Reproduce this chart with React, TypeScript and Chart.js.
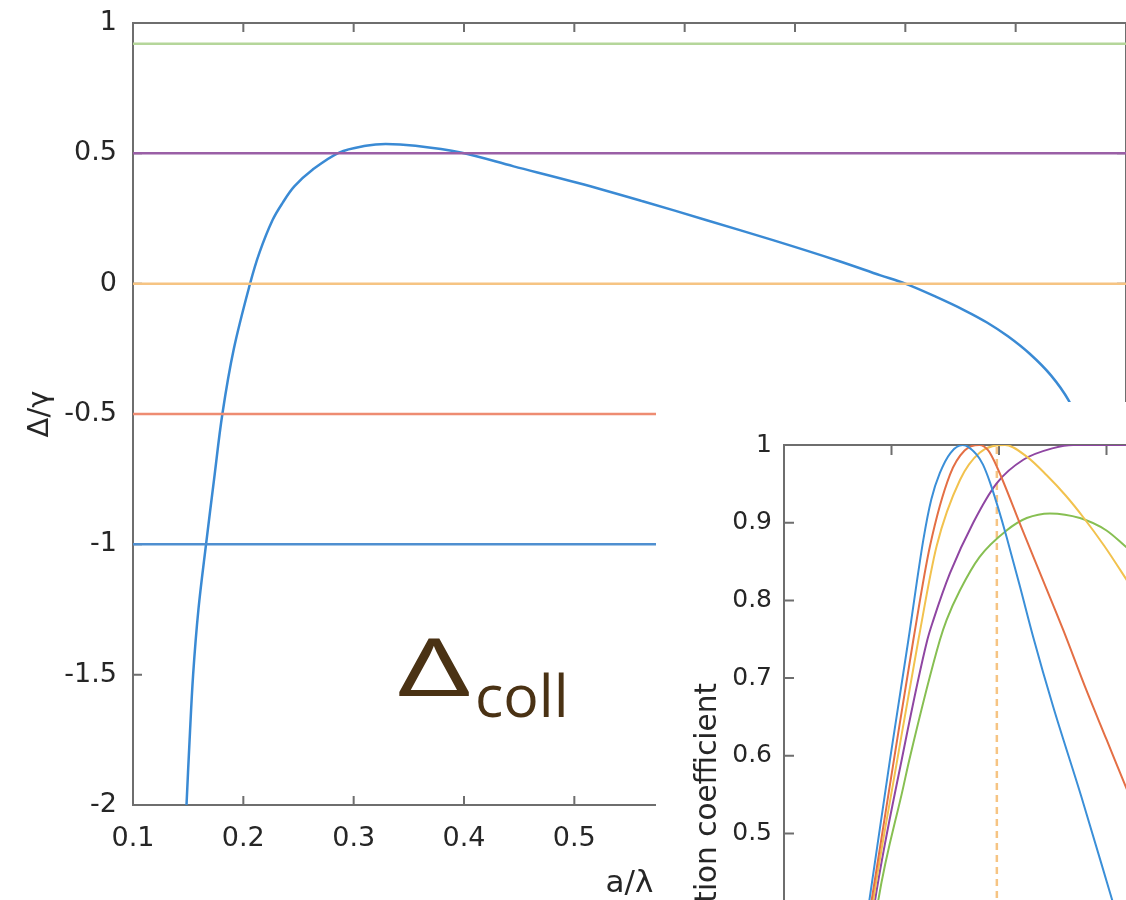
import React, { useEffect, useRef } from 'react';
import { Chart, registerables } from 'chart.js';

Chart.register(...registerables);

// ---------- Main chart: collective shift vs lattice spacing ----------
const mainXTicks = [0.1, 0.2, 0.3, 0.4, 0.5, 0.6, 0.7, 0.8, 0.9, 1.0];
const mainYTicks = [-2, -1.5, -1, -0.5, 0, 0.5, 1];

const collX = [0.148, 0.1485, 0.1513, 0.1545, 0.1593, 0.1662, 0.1735, 0.181, 0.1914, 0.2061, 0.2147, 0.2266, 0.2356, 0.2462, 0.2627, 0.2869, 0.311, 0.329, 0.356, 0.397, 0.445, 0.5035, 0.562, 0.62, 0.68, 0.7375, 0.7775, 0.8, 0.827, 0.854, 0.874, 0.893, 0.913, 0.932, 0.948, 0.96, 0.97];
const collY = [-2.05, -2.0, -1.75, -1.5, -1.25, -1.0, -0.75, -0.5, -0.25, 0, 0.12, 0.245, 0.31, 0.373, 0.437, 0.503, 0.529, 0.536, 0.529, 0.503, 0.45, 0.386, 0.316, 0.2435, 0.167, 0.09, 0.032, 0, -0.049, -0.103, -0.149, -0.202, -0.27, -0.352, -0.448, -0.56, -0.68];

const levelValues = [0.92, 0.5, 0, -0.5, -1];
const levelColors = ['#b5d69a', '#9a5fa6', '#f6c483', '#ee8c72', '#4f8fd0'];

// ---------- Inset: reflection coefficient vs lattice spacing ----------
const insetXTicks = [0, 0.1, 0.2, 0.3, 0.4, 0.5];
const insetYTicks = [0, 0.1, 0.2, 0.3, 0.4, 0.5, 0.6, 0.7, 0.8, 0.9, 1];

const blueX = [0.072, 0.0794, 0.0986, 0.1157, 0.1296, 0.137, 0.145, 0.155, 0.1662, 0.179, 0.185, 0.1916, 0.199, 0.207, 0.2195, 0.232, 0.25, 0.2767, 0.303, 0.318];
const blueY = [0.345, 0.414, 0.595, 0.749, 0.878, 0.93, 0.964, 0.99, 1.0, 0.988, 0.975, 0.952, 0.92, 0.882, 0.818, 0.752, 0.665, 0.547, 0.425, 0.355];

const redX = [0.074, 0.0815, 0.1023, 0.1203, 0.1358, 0.1544, 0.168, 0.1817, 0.19, 0.198, 0.22, 0.24, 0.26, 0.28, 0.3, 0.318, 0.33];
const redY = [0.345, 0.414, 0.595, 0.749, 0.87, 0.962, 0.993, 1.0, 0.993, 0.972, 0.897, 0.829, 0.761, 0.689, 0.621, 0.56, 0.519];

const yellowX = [0.076, 0.083, 0.1054, 0.125, 0.142, 0.1637, 0.182, 0.2056, 0.2258, 0.2444, 0.262, 0.2784, 0.298, 0.318, 0.33];
const yellowY = [0.345, 0.414, 0.595, 0.749, 0.87, 0.955, 0.99, 1.0, 0.985, 0.961, 0.935, 0.907, 0.87, 0.828, 0.802];

const purpleX = [0.078, 0.0847, 0.1095, 0.1333, 0.139, 0.1544, 0.176, 0.198, 0.2226, 0.2505, 0.269, 0.3, 0.33];
const purpleY = [0.345, 0.414, 0.595, 0.749, 0.775, 0.835, 0.9, 0.951, 0.981, 0.996, 1.0, 1.0, 1.0];

const greenX = [0.081, 0.0877, 0.111, 0.1166, 0.145, 0.1513, 0.1637, 0.182, 0.207, 0.2258, 0.2474, 0.2753, 0.3, 0.318, 0.33];
const greenY = [0.345, 0.414, 0.56, 0.595, 0.749, 0.775, 0.813, 0.856, 0.89, 0.906, 0.912, 0.906, 0.89, 0.869, 0.855];

const insetColors = ['#3b8fd8', '#e46f45', '#f2c24e', '#8f46a2', '#87bf52'];
const markerX = 0.198;
const markerY = [0, 1];

const TEXT = '#262626';
const AXIS = '#6e6e6e';
const FONT = 'DejaVu Sans';

const fmt = (v: number) => String(Number(Number(v).toFixed(2)));
const pts = (xs: number[], ys: number[]) => xs.map((x, i) => ({ x, y: ys[i] }));

const noPad = (s: any) => {
  s.paddingTop = 0;
  s.paddingBottom = 0;
  s.paddingLeft = 0;
  s.paddingRight = 0;
};

function boxPlugin(id: string, tickLen: number) {
  return {
    id,
    beforeDatasetsDraw(chart: any) {
      const { ctx, chartArea } = chart;
      const { left, right, top, bottom } = chartArea;
      const xs = chart.scales.x;
      const ys = chart.scales.y;
      ctx.save();
      ctx.strokeStyle = AXIS;
      ctx.lineWidth = 2;
      ctx.strokeRect(left, top, right - left, bottom - top);
      ctx.beginPath();
      xs.ticks.forEach((t: any) => {
        const p = xs.getPixelForValue(t.value);
        ctx.moveTo(p, bottom);
        ctx.lineTo(p, bottom - tickLen);
        ctx.moveTo(p, top);
        ctx.lineTo(p, top + tickLen);
      });
      ys.ticks.forEach((t: any) => {
        const p = ys.getPixelForValue(t.value);
        ctx.moveTo(left, p);
        ctx.lineTo(left + tickLen, p);
        ctx.moveTo(right, p);
        ctx.lineTo(right - tickLen, p);
      });
      ctx.stroke();
      ctx.restore();
    },
  };
}

const collLabelPlugin = {
  id: 'collLabel',
  afterDraw(chart: any) {
    const { ctx } = chart;
    ctx.save();
    ctx.fillStyle = '#4a3214';
    ctx.textBaseline = 'alphabetic';
    ctx.textAlign = 'left';
    ctx.translate(397, 696);
    ctx.scale(1.6, 1);
    ctx.font = '80px "Open Sans"';
    ctx.fillText('Δ', 0, 0);
    ctx.restore();
    ctx.save();
    ctx.fillStyle = '#4a3214';
    ctx.textBaseline = 'alphabetic';
    ctx.textAlign = 'left';
    ctx.font = '59px "Open Sans"';
    ctx.fillText('coll', 475, 717);
    ctx.restore();
  },
};

// Inset y-axis title, placed beside the inset's y axis.
const insetTitlePlugin = {
  id: 'insetTitle',
  afterDraw(chart: any) {
    const { ctx } = chart;
    ctx.save();
    ctx.fillStyle = TEXT;
    ctx.font = `29.5px "${FONT}"`;
    ctx.textAlign = 'center';
    ctx.textBaseline = 'middle';
    ctx.translate(52, 436);
    ctx.rotate(-Math.PI / 2);
    ctx.fillText('Reflection coefficient', 0, 0);
    ctx.restore();
  },
};

export default function App() {
  const mainRef = useRef<HTMLCanvasElement>(null);
  const insetRef = useRef<HTMLCanvasElement>(null);

  useEffect(() => {
    const levelSets = levelValues.map((v, i) => ({
      data: [{ x: mainXTicks[0], y: v }, { x: mainXTicks[mainXTicks.length - 1], y: v }],
      borderColor: levelColors[i],
      borderWidth: 2.5,
      pointRadius: 0,
    }));

    const main = new Chart(mainRef.current!, {
      type: 'line',
      data: {
        datasets: [
          ...levelSets,
          {
            data: pts(collX, collY),
            borderColor: '#3a8ad4',
            borderWidth: 2.5,
            pointRadius: 0,
            tension: 0.35,
          },
        ],
      },
      options: {
        animation: false,
        responsive: false,
        devicePixelRatio: 1,
        events: [],
        layout: { padding: { left: 0, top: 23, right: 14, bottom: 0 } },
        plugins: { legend: { display: false }, tooltip: { enabled: false } },
        scales: {
          x: {
            type: 'linear',
            min: 0.1,
            max: 1.0,
            afterBuildTicks: (s: any) => { s.ticks = mainXTicks.map((value) => ({ value })); },
            afterFit: (s: any) => { s.height = 95; noPad(s); },
            grid: { display: false, drawTicks: false },
            border: { display: false },
            ticks: { font: { family: FONT, size: 27 }, color: TEXT, padding: 18, autoSkip: false, maxRotation: 0, callback: (v: any) => fmt(v) },
            title: { display: true, text: 'a/λ', font: { family: FONT, size: 31 }, color: TEXT, padding: { top: 0, bottom: -3 } },
          },
          y: {
            type: 'linear',
            min: -2,
            max: 1,
            afterBuildTicks: (s: any) => { s.ticks = mainYTicks.map((value) => ({ value })); },
            afterFit: (s: any) => { s.width = 133; noPad(s); },
            grid: { display: false, drawTicks: false },
            border: { display: false },
            ticks: { font: { family: FONT, size: 27 }, color: TEXT, padding: 16, autoSkip: false, callback: (v: any) => fmt(v) },
            title: { display: true, text: 'Δ/γ', font: { family: FONT, size: 29 }, color: TEXT, padding: { top: 23, bottom: 0 } },
          },
        },
      },
      plugins: [boxPlugin('mainBox', 9), collLabelPlugin],
    } as any);

    const insetSeries = [
      pts(blueX, blueY),
      pts(redX, redY),
      pts(yellowX, yellowY),
      pts(purpleX, purpleY),
      pts(greenX, greenY),
    ];

    const inset = new Chart(insetRef.current!, {
      type: 'line',
      data: {
        datasets: [
          ...insetSeries.map((d, i) => ({
            data: d,
            borderColor: insetColors[i],
            borderWidth: 2,
            pointRadius: 0,
            cubicInterpolationMode: 'monotone',
          })),
          {
            data: markerY.map((y) => ({ x: markerX, y })),
            borderColor: '#f6c483',
            borderWidth: 2.5,
            borderDash: [7, 5],
            pointRadius: 0,
          },
        ],
      },
      options: {
        animation: false,
        responsive: false,
        devicePixelRatio: 1,
        events: [],
        layout: { padding: { left: 0, top: 43, right: 34.5, bottom: 0 } },
        plugins: { legend: { display: false }, tooltip: { enabled: false } },
        scales: {
          x: {
            type: 'linear',
            min: 0,
            max: 0.5,
            afterBuildTicks: (s: any) => { s.ticks = insetXTicks.map((value) => ({ value })); },
            afterFit: (s: any) => { s.height = 80; noPad(s); },
            grid: { display: false, drawTicks: false },
            border: { display: false },
            ticks: { font: { family: FONT, size: 25 }, color: TEXT, padding: 14, autoSkip: false, maxRotation: 0, callback: (v: any) => fmt(v) },
            title: { display: true, text: 'a/λ', font: { family: FONT, size: 29 }, color: TEXT, padding: { top: 0, bottom: 2 } },
          },
          y: {
            type: 'linear',
            min: 0,
            max: 1,
            afterBuildTicks: (s: any) => { s.ticks = insetYTicks.map((value) => ({ value })); },
            afterFit: (s: any) => { s.width = 128; noPad(s); },
            grid: { display: false, drawTicks: false },
            border: { display: false },
            ticks: { font: { family: FONT, size: 25 }, color: TEXT, padding: 12, autoSkip: false, callback: (v: any) => fmt(v) },
            title: { display: false },
          },
        },
      },
      plugins: [boxPlugin('insetBox', 10), insetTitlePlugin],
    } as any);

    return () => {
      main.destroy();
      inset.destroy();
    };
  }, []);

  return (
    <div style={{ position: 'fixed', left: 0, top: 0, width: 1126, height: 900, overflow: 'hidden', background: '#fff' }}>
      <canvas ref={mainRef} width={1140} height={900} style={{ position: 'absolute', left: 0, top: 0 }} />
      <canvas ref={insetRef} width={700} height={900} style={{ position: 'absolute', left: 656, top: 402, background: '#fff' }} />
    </div>
  );
}
